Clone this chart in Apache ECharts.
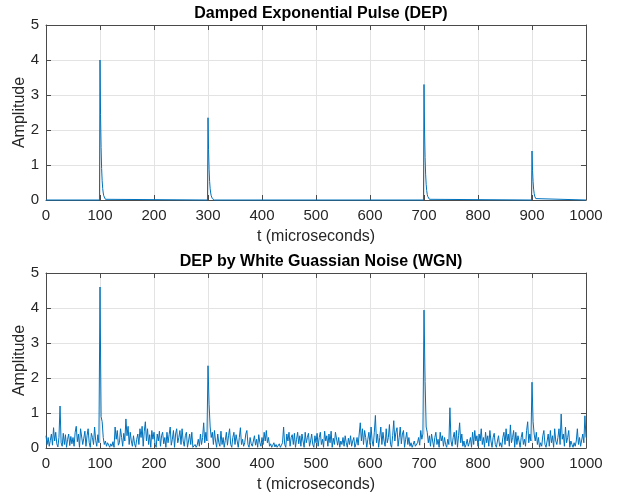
<!DOCTYPE html>
<html>
<head>
<meta charset="utf-8">
<script src="https://cdn.jsdelivr.net/npm/echarts@6/dist/echarts.min.js"></script>
<style>
  html, body { margin: 0; padding: 0; background: #fff; }
  #chart { width: 619px; height: 497px; }
</style>
</head>
<body>
<div id="chart"></div>
<script>
// Clean damped exponential pulse train: [t (µs), amplitude]
const depPulse = [
  [0, 0], [99, 0], [100, 4.0], [101, 2.45], [102, 1.5], [103, 0.9], [104, 0.55], [105, 0.33],
  [106, 0.2], [107, 0.12], [108, 0.07], [110, 0.02], [112, 0],
  [299, 0], [300, 2.35], [301, 1.45], [302, 0.88], [303, 0.53], [304, 0.32], [305, 0.2],
  [306, 0.12], [307, 0.07], [308, 0.04], [310, 0.01], [312, 0],
  [699, 0], [700, 3.3], [701, 2.0], [702, 1.22], [703, 0.74], [704, 0.45], [705, 0.27],
  [706, 0.16], [707, 0.1], [708, 0.06], [710, 0.02], [712, 0],
  [899, 0], [900, 1.4], [901, 0.85], [902, 0.52], [903, 0.31], [904, 0.19], [905, 0.11],
  [906, 0.07], [907, 0.04], [908, 0.02], [910, 0], [1000, 0]
];

// Pulse train corrupted by white Gaussian noise, sampled every 2 µs from t = 0
const noisyStart = 0;
const noisyStep = 2;
const noisyAmplitude = [
  // 0 - 48
  0.35, 0.1, 0.3, 0.05, 0.22, 0.4, 0.08, 0.58, 0.2, 0.45, 0.12, 0.03, 0.3, 1.2, 0.15, 0.05, 0.42, 0.1, 0.38, 0.02, 0.25, 0.4, 0.07, 0.33, 0.12,
  // 50 - 98
  0.3, 0.05, 0.45, 0.62, 0.18, 0.4, 0.02, 0.55, 0.6, 0.1, 0.28, 0.48, 0.05, 0.35, 0.55, 0.15, 0.02, 0.42, 0.3, 0.1, 0.6, 0.22, 0.05, 0.38, 0.15,
  // 100 - 148
  4.6, 0.9, 0.75, 0.3, 0.1, 0.2, 0.05, 0.15, 0.1, 0.02, 0.12, 0.05, 0.18, 0.02, 0.6, 0.25, 0.5, 0.08, 0.15, 0.55, 0.3, 0.05, 0.42, 0.2, 0.83,
  // 150 - 198
  0.35, 0.62, 0.1, 0.45, 0.2, 0.05, 0.35, 0.12, 0.02, 0.25, 0.4, 0.1, 0.55, 0.3, 0.62, 0.05, 0.48, 0.75, 0.2, 0.55, 0.1, 0.38, 0.02, 0.5, 0.25,
  // 200 - 248
  0.45, 0.1, 0.02, 0.4, 0.2, 0.48, 0.05, 0.35, 0.45, 0.12, 0.3, 0.02, 0.45, 0.15, 0.38, 0.6, 0.08, 0.25, 0.5, 0.02, 0.4, 0.55, 0.15, 0.3, 0.5,
  // 250 - 298
  0.1, 0.55, 0.2, 0.05, 0.35, 0.45, 0.02, 0.2, 0.4, 0.1, 0.45, 0.02, 0.05, 0.1, 0.02, 0.08, 0.25, 0.05, 0.4, 0.1, 0.3, 0.72, 0.15, 0.45, 0.2,
  // 300 - 348
  2.35, 1.25, 0.6, 0.3, 0.45, 0.1, 0.5, 0.2, 0.02, 0.4, 0.15, 0.05, 0.48, 0.1, 0.3, 0.02, 0.22, 0.45, 0.08, 0.35, 0.55, 0.1, 0.02, 0.3, 0.45,
  // 350 - 398
  0.1, 0.38, 0.2, 0.02, 0.3, 0.58, 0.1, 0.25, 0.05, 0.15, 0.4, 0.5, 0.1, 0.02, 0.3, 0.12, 0.05, 0.2, 0.35, 0.08, 0.25, 0.02, 0.38, 0.15, 0.05,
  // 400 - 448
  0.3, 0.1, 0.45, 0.2, 0.5, 0.15, 0.3, 0.05, 0.12, 0.02, 0.08, 0.15, 0.03, 0.1, 0.02, 0.05, 0.12, 0.02, 0.08, 0.15, 0.6, 0.1, 0.02, 0.4, 0.2,
  // 450 - 498
  0.45, 0.05, 0.3, 0.38, 0.1, 0.42, 0.02, 0.25, 0.45, 0.12, 0.35, 0.05, 0.4, 0.2, 0.02, 0.45, 0.15, 0.3, 0.42, 0.05, 0.2, 0.4, 0.1, 0.02, 0.35,
  // 500 - 548
  0.15, 0.42, 0.05, 0.3, 0.45, 0.1, 0.25, 0.02, 0.48, 0.2, 0.35, 0.05, 0.4, 0.15, 0.48, 0.02, 0.28, 0.1, 0.45, 0.5, 0.08, 0.3, 0.02, 0.2, 0.1,
  // 550 - 598
  0.3, 0.05, 0.35, 0.15, 0.02, 0.28, 0.1, 0.35, 0.05, 0.2, 0.3, 0.02, 0.12, 0.3, 0.08, 0.4, 0.72, 0.2, 0.55, 0.1, 0.5, 0.3, 0.02, 0.25, 0.45,
  // 600 - 648
  0.1, 0.6, 0.2, 0.05, 0.45, 0.93, 0.15, 0.4, 0.02, 0.3, 0.6, 0.1, 0.45, 0.2, 0.05, 0.55, 0.15, 0.3, 0.67, 0.1, 0.02, 0.35, 0.78, 0.2, 0.45,
  // 650 - 698
  0.58, 0.05, 0.3, 0.6, 0.12, 0.4, 0.5, 0.02, 0.25, 0.45, 0.1, 0.3, 0.05, 0.15, 0.02, 0.1, 0.2, 0.05, 0.02, 0.15, 0.3, 0.08, 0.5, 0.25, 0.4,
  // 700 - 748
  3.94, 1.9, 0.6, 0.45, 0.15, 0.35, 0.05, 0.4, 0.2, 0.02, 0.3, 0.45, 0.1, 0.25, 0.02, 0.45, 0.2, 0.35, 0.05, 0.3, 0.1, 0.02, 0.25, 0.1, 1.15,
  // 750 - 798
  0.2, 0.05, 0.3, 0.45, 0.1, 0.5, 0.02, 0.35, 0.72, 0.15, 0.4, 0.05, 0.2, 0.02, 0.1, 0.25, 0.05, 0.15, 0.3, 0.02, 0.45, 0.1, 0.5, 0.2, 0.35,
  // 800 - 848
  0.05, 0.4, 0.2, 0.55, 0.1, 0.3, 0.02, 0.45, 0.15, 0.35, 0.05, 0.5, 0.2, 0.02, 0.3, 0.42, 0.1, 0.02, 0.2, 0.35, 0.05, 0.15, 0.02, 0.3, 0.45,
  // 850 - 898
  0.1, 0.55, 0.2, 0.4, 0.05, 0.66, 0.15, 0.3, 0.5, 0.02, 0.45, 0.1, 0.35, 0.2, 0.02, 0.3, 0.45, 0.1, 0.25, 0.05, 0.5, 0.75, 0.15, 0.4, 0.2,
  // 900 - 948
  1.88, 0.75, 0.4, 0.2, 0.45, 0.1, 0.3, 0.02, 0.15, 0.05, 0.35, 0.5, 0.1, 0.02, 0.2, 0.4, 0.05, 0.5, 0.15, 0.35, 0.02, 0.55, 0.2, 0.1, 0.3,
  // 950 - 1000
  0.55, 0.1, 0.97, 0.25, 0.4, 0.05, 0.6, 0.15, 0.3, 0.5, 0.02, 0.2, 0.1, 0.02, 0.15, 0.05, 0.2, 0.55, 0.1, 0.3, 0.05, 0.02, 0.4, 0.15, 0.92, 0.3
];

// Axis ranges and tick labels
const tRange = [0, 1000];
const tTickStep = 100;
const ampRange = [0, 5];
const ampTickStep = 1;

const titles = ['Damped Exponential Pulse (DEP)', 'DEP by White Guassian Noise (WGN)'];
const xName = 't (microseconds)';
const yName = 'Amplitude';

const noisyPoints = noisyAmplitude.map((v, i) => [noisyStart + i * noisyStep, v]);

const FONT = 'Arial';
const LINE_BLUE = '#0072BD';
const AXIS_GRAY = '#4a4a4a';
const GRID_GRAY = '#e3e3e3';
const TEXT_DARK = '#262626';

const gridBoxes = [
  { left: 46, width: 540, top: 25, height: 175 },
  { left: 46, width: 540, top: 273, height: 175 }
];

function xAxes(gi) {
  const common = {
    gridIndex: gi, type: 'value', min: tRange[0], max: tRange[1], interval: tTickStep,
    axisLine: { show: true, onZero: false, lineStyle: { color: AXIS_GRAY, width: 1 } },
    axisTick: { show: true, inside: true, length: 5, lineStyle: { color: AXIS_GRAY } }
  };
  return [
    Object.assign({}, common, {
      position: 'bottom',
      axisLabel: { fontFamily: FONT, fontSize: 15, color: TEXT_DARK, margin: 8, formatter: v => String(v) },
      splitLine: { show: true, lineStyle: { color: GRID_GRAY, width: 1 } },
      name: xName, nameLocation: 'middle', nameGap: 29, nameMoveOverlap: false,
      nameTextStyle: { fontFamily: FONT, fontSize: 16, color: TEXT_DARK }
    }),
    Object.assign({}, common, {
      position: 'top',
      axisLabel: { show: false },
      splitLine: { show: false }
    })
  ];
}

function yAxes(gi) {
  const common = {
    gridIndex: gi, type: 'value', min: ampRange[0], max: ampRange[1], interval: ampTickStep,
    axisLine: { show: true, onZero: false, lineStyle: { color: AXIS_GRAY, width: 1 } },
    axisTick: { show: true, inside: true, length: 5, lineStyle: { color: AXIS_GRAY } }
  };
  return [
    Object.assign({}, common, {
      position: 'left',
      axisLabel: { fontFamily: FONT, fontSize: 15, color: TEXT_DARK, margin: 7 },
      splitLine: { show: true, lineStyle: { color: GRID_GRAY, width: 1 } },
      name: yName, nameLocation: 'middle', nameGap: 18, nameRotate: 90, nameMoveOverlap: false,
      nameTextStyle: { fontFamily: FONT, fontSize: 16, color: TEXT_DARK }
    }),
    Object.assign({}, common, {
      position: 'right',
      axisLabel: { show: false },
      splitLine: { show: false }
    })
  ];
}

const chart = echarts.init(document.getElementById('chart'), null, { renderer: 'canvas' });

chart.setOption({
  animation: false,
  backgroundColor: '#ffffff',
  title: titles.map((text, i) => ({
    text: text,
    left: gridBoxes[i].left + gridBoxes[i].width / 2,
    top: gridBoxes[i].top - 24,
    textAlign: 'center',
    textStyle: { fontFamily: FONT, fontSize: 16, fontWeight: 'bold', color: '#000' }
  })),
  grid: gridBoxes,
  xAxis: [].concat(xAxes(0), xAxes(1)),
  yAxis: [].concat(yAxes(0), yAxes(1)),
  series: [
    {
      type: 'line', xAxisIndex: 0, yAxisIndex: 0, data: depPulse, clip: false,
      showSymbol: false, lineStyle: { color: LINE_BLUE, width: 1 }, z: 10
    },
    {
      type: 'line', xAxisIndex: 2, yAxisIndex: 2, data: noisyPoints, clip: false,
      showSymbol: false, lineStyle: { color: LINE_BLUE, width: 1 }, z: 10
    }
  ]
});
</script>
</body>
</html>
